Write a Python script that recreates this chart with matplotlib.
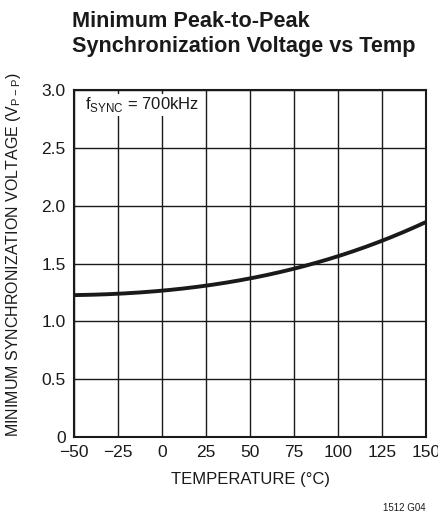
import numpy as np
import matplotlib.pyplot as plt

# curve
temp = [-50, -25, 0, 25, 50, 75, 100, 125, 150]
vsync = [1.23, 1.235, 1.265, 1.315, 1.375, 1.45, 1.565, 1.70, 1.86]

xticks = [-50, -25, 0, 25, 50, 75, 100, 125, 150]
xtick_labels = ["\u221250", "\u221225", "0", "25", "50", "75", "100", "125", "150"]
yticks = [0, 0.5, 1.0, 1.5, 2.0, 2.5, 3.0]
ytick_labels = ["0", "0.5", "1.0", "1.5", "2.0", "2.5", "3.0"]

plt.rcParams["font.family"] = ["Liberation Sans", "DejaVu Sans"]
ink = "#1a1a1a"

fig = plt.figure(figsize=(4.38, 5.21), dpi=100)
ax = fig.add_axes([0.169, 0.161, 0.804, 0.666])

# smooth through read points
xs = np.linspace(-50, 150, 200)
coef = np.polyfit(temp, vsync, 3)
ax.plot(xs, np.polyval(coef, xs), color=ink, lw=2.8, solid_capstyle="butt")

ax.set_xlim(-50, 150)
ax.set_ylim(0, 3.0)
ax.set_xticks(xticks)
ax.set_xticklabels(xtick_labels)
ax.set_yticks(yticks)
ax.set_yticklabels(ytick_labels)
ax.tick_params(length=0, labelsize=12.5, colors=ink)
ax.tick_params(axis="x", pad=6)
ax.tick_params(axis="y", pad=6)
ax.grid(True, color=ink, lw=1.0)
for s in ax.spines.values():
    s.set_linewidth(1.5)
    s.set_color(ink)

ax.set_xlabel("TEMPERATURE (°C)", fontsize=12, color=ink, labelpad=8)
ax.set_ylabel("MINIMUM SYNCHRONIZATION VOLTAGE (V$_{\\mathregular{P-P}}$)",
              fontsize=11.5, color=ink)
ax.yaxis.set_label_coords(-0.145, 0.525)

ax.text(-43.5, 2.955, "f$_{\\mathregular{SYNC}}$ = 700kHz", fontsize=12, va="top",
        color=ink, bbox=dict(facecolor="white", edgecolor="none", pad=1))

fig.text(0.165, 0.978, "Minimum Peak-to-Peak\nSynchronization Voltage vs Temp",
         fontsize=15.6, fontweight="bold", va="top", ha="left", color=ink,
         linespacing=1.25)
fig.text(0.972, 0.015, "1512 G04", fontsize=7, ha="right", va="bottom", color=ink)

fig.savefig("out.png", dpi=100)
